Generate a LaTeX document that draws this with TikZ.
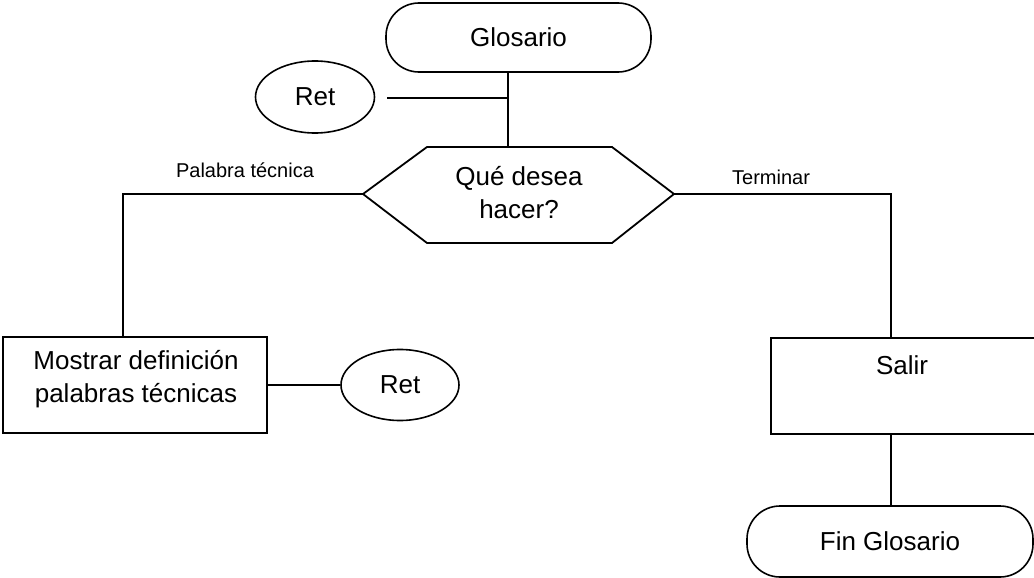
\documentclass[tikz,border=0pt]{standalone}
\usepackage{fontspec}
\setmainfont{Liberation Sans}
\usetikzlibrary{shapes.geometric}
\begin{document}
\begin{tikzpicture}[x=1pt, y=-1pt, line width=1.8pt,
  terminal/.style={draw, rectangle, rounded corners=33pt, inner sep=0pt, line width=1.6pt,
                   font=\fontsize{26}{31}\selectfont},
  retnode/.style={draw, ellipse, inner sep=0pt, line width=1.6pt,
                  minimum width=119pt, minimum height=72pt, font=\fontsize{26}{31}\selectfont},
  procbox/.style={draw, rectangle, inner sep=0pt, line width=2pt},
  bigtext/.style={font=\fontsize{26}{31}\selectfont, align=center, inner sep=0pt},
  edgelabel/.style={font=\fontsize{20}{24}\selectfont, inner sep=0pt},
  link/.style={line width=2pt}]

\useasboundingbox (0,0) rectangle (1034,578);
\fill[white] (0,0) rectangle (1034,578);

% start terminal and the return bubble beside it
\node[terminal, minimum width=265pt, minimum height=69pt] (glos) at (518.5,37.5) {Glosario};
\node[retnode] (ret1) at (315,97) {Ret};

% decision hexagon
\coordinate (qW) at (363,194);
\coordinate (qE) at (674,194);
\coordinate (qN) at (508,147);
\draw[line width=1.8pt] (qW) -- (427,147) -- (612,147) -- (qE) -- (612,243) -- (427,243) -- cycle;
\node[bigtext] (ask) at (519,192.5) {Qué desea\\[2pt]hacer?};

% process boxes
\node[procbox, minimum width=264pt, minimum height=96pt] (most) at (135,385) {};
\node[bigtext] (mosttxt) at (136,379) {Mostrar definición\\[2pt]palabras técnicas};
\node[retnode, minimum width=118pt, minimum height=71pt] (ret2) at (400,385) {Ret};

\node[procbox, minimum width=269pt, minimum height=96pt] (salir) at (905.5,386) {};
\node[bigtext] (salirtxt) at (902,365) {Salir};

% end terminal
\node[terminal, minimum width=286pt, minimum height=71pt] (fin) at (890,541.5) {Fin Glosario};

% connectors
\coordinate (retend) at (387,98);
\coordinate (lc) at (123,194);
\coordinate (rc) at (891,194);

\draw[link] (qN) -- (qN |- glos.south);
\draw[link] (retend) -- (retend -| qN);
\draw[link] (qW) -- (lc) -- (lc |- most.north);
\draw[link] (qE) -- (rc) -- (rc |- salir.north);
\draw[link] (rc |- salir.south) -- (rc |- fin.north);
\draw[link] (most.east) -- (ret2.west);

% branch labels
\node[edgelabel] (lblword) at (245,170) {Palabra técnica};
\node[edgelabel] (lblend) at (771,177) {Terminar};
\end{tikzpicture}
\end{document}
